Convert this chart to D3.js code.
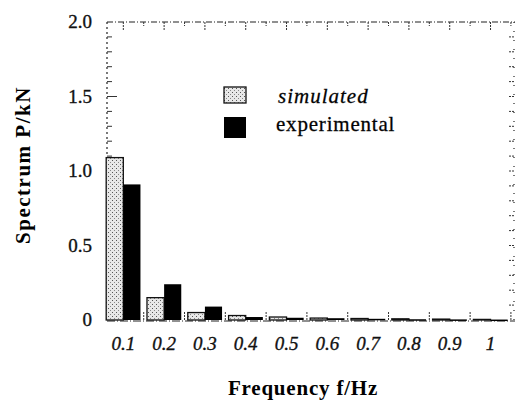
<!DOCTYPE html>
<html><head><meta charset="utf-8">
<script src="https://cdn.jsdelivr.net/npm/d3@7"></script>
<style>body{margin:0;background:#fff}svg{display:block}</style>
</head><body><div id="chart"></div>
<script>
const freqs = [0.1,0.2,0.3,0.4,0.5,0.6,0.7,0.8,0.9,1.0];
const simulated = [1.09,0.15,0.05,0.03,0.02,0.013,0.01,0.008,0.006,0.004];
const experimental = [0.91,0.24,0.09,0.02,0.015,0.012,0.008,0.005,0.004,0.003];
const xTickLabels = ["0.1","0.2","0.3","0.4","0.5","0.6","0.7","0.8","0.9","1"];
const yTicks = [0,0.5,1.0,1.5,2.0];
const yTickLabels = ["0","0.5","1.0","1.5","2.0"];
const seriesNames = ["simulated","experimental"];

const W=517,H=403;
const svg=d3.select("#chart").append("svg").attr("width",W).attr("height",H);
const defs=svg.append("defs");
const pat=defs.append("pattern").attr("id","stip").attr("patternUnits","userSpaceOnUse").attr("width",4).attr("height",4);
pat.append("rect").attr("width",4).attr("height",4).attr("fill","#e8e8e8");
pat.append("rect").attr("x",0).attr("y",0).attr("width",1).attr("height",1).attr("fill","#555");
pat.append("rect").attr("x",2).attr("y",2).attr("width",1).attr("height",1).attr("fill","#888");

const x=d3.scaleLinear().domain([0.06,1.06]).range([107,515]);
const y=d3.scaleLinear().domain([0,2]).range([320,22]);
const bw=x(0.1)-x(0.058);
const font="'Liberation Serif', 'DejaVu Serif', serif";

// frame (dashed)
const frame=svg.append("g").attr("stroke","#222").attr("stroke-width",1.2).attr("fill","none");
frame.append("line").attr("x1",x(0.06)).attr("x2",515).attr("y1",y(2)).attr("y2",y(2)).attr("stroke-dasharray","6,2,1,2");
frame.append("line").attr("x1",514).attr("x2",514).attr("y1",y(2)).attr("y2",y(0)).attr("stroke-dasharray","1,8");
frame.append("line").attr("x1",x(0.06)).attr("x2",x(0.06)).attr("y1",y(2)).attr("y2",y(0)).attr("stroke-dasharray","2,3");
frame.append("line").attr("x1",x(0.06)).attr("x2",515).attr("y1",y(0)+1).attr("y2",y(0)+1).attr("stroke-dasharray","8,2,1,2");

// top ticks
svg.append("g").selectAll("line").data(d3.range(0.1,1.06,0.05)).join("line")
  .attr("x1",d=>x(d)).attr("x2",d=>x(d)).attr("y1",y(2)).attr("y2",(d,i)=>y(2)+(i%2?4:8))
  .attr("stroke","#333").attr("stroke-width",1).attr("stroke-dasharray","2,1");
// bottom ticks
svg.append("g").selectAll("line").data(d3.range(0.15,1.06,0.1)).join("line")
  .attr("x1",d=>x(d)).attr("x2",d=>x(d)).attr("y1",y(0)).attr("y2",y(0)-8)
  .attr("stroke","#333").attr("stroke-width",1).attr("stroke-dasharray","2,1");
// left/right minor ticks
const yt=d3.range(0.1,2.0,0.1);
svg.append("g").selectAll("line").data(yt).join("line")
  .attr("x1",x(0.06)).attr("x2",(d,i)=>x(0.06)+((i+1)%5===0?10:5)).attr("y1",d=>y(d)).attr("y2",d=>y(d))
  .attr("stroke","#333").attr("stroke-width",1);
svg.append("g").selectAll("line").data(yt).join("line")
  .attr("x1",514).attr("x2",509).attr("y1",d=>y(d)).attr("y2",d=>y(d))
  .attr("stroke","#333").attr("stroke-width",1).attr("stroke-dasharray","2,1");

// bars
svg.append("g").selectAll("rect").data(freqs).join("rect")
  .attr("x",d=>x(d)-bw).attr("width",bw)
  .attr("y",(d,i)=>y(simulated[i])).attr("height",(d,i)=>y(0)-y(simulated[i]))
  .attr("fill","url(#stip)").attr("stroke","#111").attr("stroke-width",1.3);
svg.append("g").selectAll("rect").data(freqs).join("rect")
  .attr("x",d=>x(d)).attr("width",bw)
  .attr("y",(d,i)=>y(experimental[i])).attr("height",(d,i)=>Math.max(1.5,y(0)-y(experimental[i])))
  .attr("fill","#000");

// x tick labels
svg.append("g").selectAll("text").data(freqs).join("text")
  .attr("x",d=>x(d)).attr("y",350).attr("text-anchor","middle")
  .attr("font-family",font).attr("font-style","italic").attr("font-size",19).attr("fill","#111")
  .attr("stroke","#111").attr("stroke-width",0.35)
  .text((d,i)=>xTickLabels[i]);
// y tick labels
svg.append("g").selectAll("text").data(yTicks).join("text")
  .attr("x",92).attr("y",d=>y(d)+6).attr("text-anchor","end")
  .attr("font-family",font).attr("font-size",19).attr("fill","#111")
  .attr("stroke","#111").attr("stroke-width",0.35)
  .text((d,i)=>yTickLabels[i]);

// axis titles
svg.append("text").attr("x",303).attr("y",395).attr("text-anchor","middle")
  .attr("font-family",font).attr("font-weight","bold").attr("font-size",21).attr("letter-spacing",0.8)
  .text("Frequency f/Hz");
svg.append("text").attr("transform","translate(30,165) rotate(-90)").attr("text-anchor","middle")
  .attr("font-family",font).attr("font-weight","bold").attr("font-size",21).attr("letter-spacing",1.5)
  .text("Spectrum P/kN");

// legend
const lg=svg.append("g");
lg.append("rect").attr("x",224).attr("y",87).attr("width",22).attr("height",16).attr("fill","url(#stip)").attr("stroke","#111").attr("stroke-width",1.3);
lg.append("rect").attr("x",224).attr("y",117).attr("width",22).attr("height",21).attr("fill","#000");
lg.append("text").attr("x",278).attr("y",103).attr("font-family",font).attr("font-style","italic").attr("font-size",21).attr("letter-spacing",1)
  .attr("stroke","#111").attr("stroke-width",0.3).text(seriesNames[0]);
lg.append("text").attr("x",276).attr("y",131).attr("font-family",font).attr("font-size",21).attr("letter-spacing",0.8)
  .attr("stroke","#111").attr("stroke-width",0.3).text(seriesNames[1]);
</script></body></html>
